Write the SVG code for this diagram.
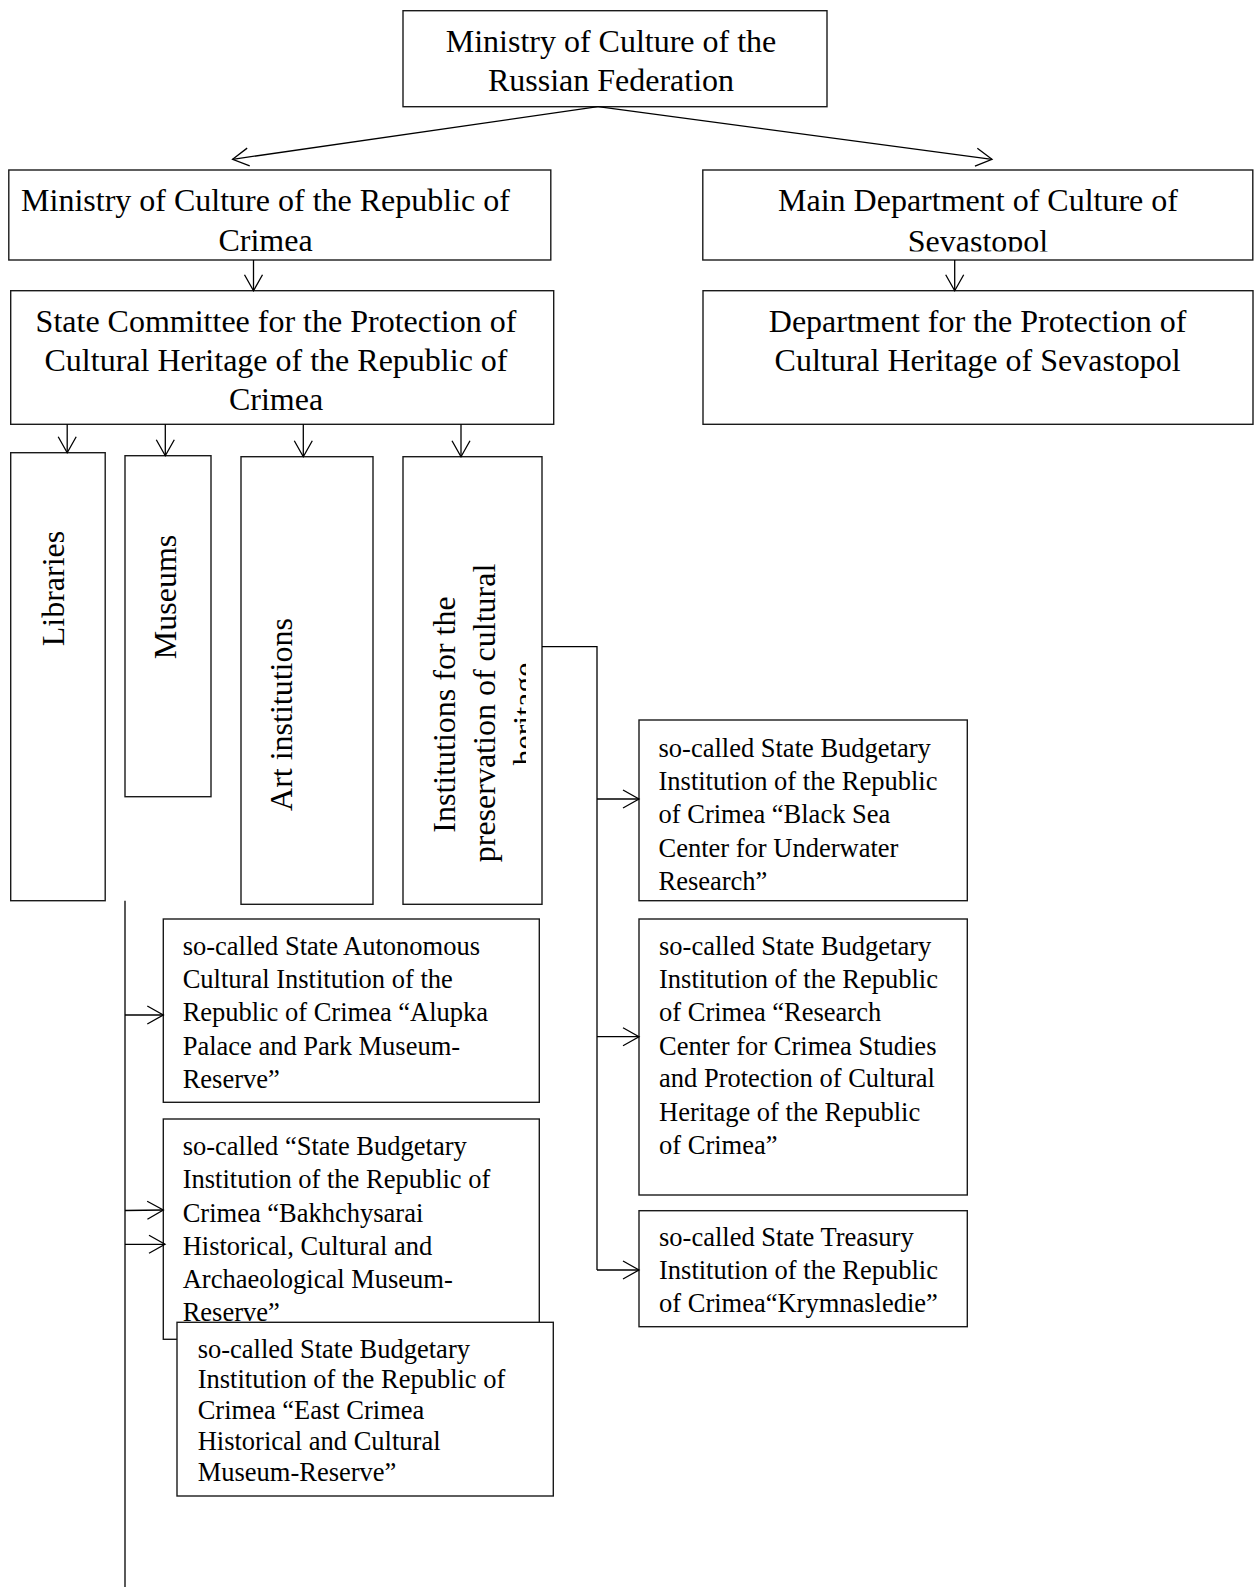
<svg xmlns="http://www.w3.org/2000/svg" width="1258" height="1587" viewBox="0 0 1258 1587">
<style>
.box{fill:#fff;stroke:#1a1a1a;stroke-width:1.4}
.big{font-family:"Liberation Serif","Times New Roman",serif;font-size:32px;fill:#000}
.sm{font-family:"Liberation Serif","Times New Roman",serif;font-size:26.5px;fill:#000}
.mid{text-anchor:middle}
.ln{fill:none;stroke:#000;stroke-width:1.3}
</style>
<defs>
<marker id="ah" viewBox="-18 -12 20 24" markerWidth="20" markerHeight="24" refX="0" refY="0" orient="auto" markerUnits="userSpaceOnUse">
<path d="M-16,-9 L0,0 L-16,9" fill="none" stroke="#000" stroke-width="1.3"/>
</marker>
<clipPath id="clipSev"><rect x="700" y="165" width="560" height="86.5"/></clipPath>
<clipPath id="clipInst"><rect x="400" y="455" width="126" height="450"/></clipPath>
</defs>

<g id="n-mincult-rf">
<rect class="box" x="403" y="10.7" width="424" height="96"/>
<text class="big mid" x="611" y="51.5">Ministry of Culture of the</text>
<text class="big mid" x="611" y="91">Russian Federation</text>
</g>

<g id="n-mincult-crimea">
<rect class="box" x="8.8" y="170" width="542" height="90"/>
<text class="big mid" x="265.5" y="211">Ministry of Culture of the Republic of</text>
<text class="big mid" x="265.5" y="250.5">Crimea</text>
</g>

<g id="n-main-dept-sev">
<rect class="box" x="702.8" y="170" width="550" height="90"/>
<g clip-path="url(#clipSev)">
<text class="big mid" x="978" y="211">Main Department of Culture of</text>
<text class="big mid" x="978" y="251.5">Sevastopol</text>
</g>
</g>

<g id="n-state-committee">
<rect class="box" x="10.7" y="290.7" width="543" height="133.6"/>
<text class="big mid" x="276" y="331.5">State Committee for the Protection of</text>
<text class="big mid" x="276" y="370.5">Cultural Heritage of the Republic of</text>
<text class="big mid" x="276" y="410">Crimea</text>
</g>

<g id="n-dept-sev">
<rect class="box" x="703" y="290.7" width="550" height="133.6"/>
<text class="big mid" x="977.6" y="331.5">Department for the Protection of</text>
<text class="big mid" x="977.6" y="370.5">Cultural Heritage of Sevastopol</text>
</g>

<g id="n-libraries">
<rect class="box" x="10.7" y="452.7" width="94.5" height="448"/>
<text class="big mid" transform="translate(63.5,588.5) rotate(-90)">Libraries</text>
</g>

<g id="n-museums">
<rect class="box" x="125" y="455.7" width="86" height="341"/>
<text class="big mid" transform="translate(176,597) rotate(-90)">Museums</text>
</g>

<g id="n-art">
<rect class="box" x="241" y="456.7" width="132" height="447.6"/>
<text class="big mid" transform="translate(292,714.5) rotate(-90)">Art institutions</text>
</g>

<g id="n-inst-preservation">
<rect class="box" x="403" y="456.7" width="139" height="447.6"/>
<g clip-path="url(#clipInst)">
<text class="big mid" transform="translate(455,714.5) rotate(-90)">Institutions for the</text>
<text class="big mid" transform="translate(495,713) rotate(-90)">preservation of cultural</text>
<text class="big mid" transform="translate(535,714) rotate(-90)">heritage</text>
</g>
</g>

<g id="n-black-sea">
<rect class="box" x="639" y="720" width="328.3" height="180.7"/>
<text class="sm" x="658.5" y="756.5">so-called State Budgetary</text>
<text class="sm" x="658.5" y="789.5">Institution of the Republic</text>
<text class="sm" x="658.5" y="823">of Crimea “Black Sea</text>
<text class="sm" x="658.5" y="856.5">Center for Underwater</text>
<text class="sm" x="658.5" y="890">Research”</text>
</g>

<g id="n-research-center">
<rect class="box" x="639" y="919" width="328.3" height="276"/>
<text class="sm" x="659" y="954.5">so-called State Budgetary</text>
<text class="sm" x="659" y="987.7">Institution of the Republic</text>
<text class="sm" x="659" y="1021">of Crimea “Research</text>
<text class="sm" x="659" y="1054.5">Center for Crimea Studies</text>
<text class="sm" x="659" y="1087">and Protection of Cultural</text>
<text class="sm" x="659" y="1120.5">Heritage of the Republic</text>
<text class="sm" x="659" y="1153.5">of Crimea”</text>
</g>

<g id="n-krymnasledie">
<rect class="box" x="639" y="1210.7" width="328.3" height="116"/>
<text class="sm" x="659" y="1246">so-called State Treasury</text>
<text class="sm" x="659" y="1279">Institution of the Republic</text>
<text class="sm" x="659" y="1312">of Crimea“Krymnasledie”</text>
</g>

<g id="n-alupka">
<rect class="box" x="163.3" y="919" width="376" height="183.3"/>
<text class="sm" x="182.7" y="954.5">so-called State Autonomous</text>
<text class="sm" x="182.7" y="988">Cultural Institution of the</text>
<text class="sm" x="182.7" y="1021">Republic of Crimea “Alupka</text>
<text class="sm" x="182.7" y="1054.5">Palace and Park Museum-</text>
<text class="sm" x="182.7" y="1087.5">Reserve”</text>
</g>

<g id="n-bakhchysarai">
<rect class="box" x="163.3" y="1119" width="376" height="220.3"/>
<text class="sm" x="182.7" y="1155">so-called “State Budgetary</text>
<text class="sm" x="182.7" y="1188">Institution of the Republic of</text>
<text class="sm" x="182.7" y="1221.5">Crimea “Bakhchysarai</text>
<text class="sm" x="182.7" y="1255">Historical, Cultural and</text>
<text class="sm" x="182.7" y="1288">Archaeological Museum-</text>
<text class="sm" x="182.7" y="1320.5">Reserve”</text>
</g>

<g id="n-east-crimea">
<rect class="box" x="177" y="1322.3" width="376.3" height="173.7"/>
<text class="sm" x="197.7" y="1357.5">so-called State Budgetary</text>
<text class="sm" x="197.7" y="1388">Institution of the Republic of</text>
<text class="sm" x="197.7" y="1419">Crimea “East Crimea</text>
<text class="sm" x="197.7" y="1450">Historical and Cultural</text>
<text class="sm" x="197.7" y="1480.5">Museum-Reserve”</text>
</g>

<g id="connectors">
<line class="ln" x1="598" y1="106.7" x2="232.6" y2="159.3" marker-end="url(#ah)"/>
<line class="ln" x1="598" y1="106.7" x2="992" y2="159.3" marker-end="url(#ah)"/>
<line class="ln" x1="253.5" y1="260" x2="253.5" y2="290.7" marker-end="url(#ah)"/>
<line class="ln" x1="954.7" y1="260" x2="954.7" y2="290.7" marker-end="url(#ah)"/>
<line class="ln" x1="67.2" y1="424.3" x2="67.2" y2="452.7" marker-end="url(#ah)"/>
<line class="ln" x1="165.3" y1="424.3" x2="165.3" y2="455.7" marker-end="url(#ah)"/>
<line class="ln" x1="303.3" y1="424.3" x2="303.3" y2="456.7" marker-end="url(#ah)"/>
<line class="ln" x1="461" y1="424.3" x2="461" y2="456.7" marker-end="url(#ah)"/>
<polyline class="ln" points="542,646.7 597,646.7 597,1270"/>
<line class="ln" x1="597" y1="799" x2="639" y2="799" marker-end="url(#ah)"/>
<line class="ln" x1="597" y1="1036.7" x2="639" y2="1036.7" marker-end="url(#ah)"/>
<line class="ln" x1="597" y1="1270" x2="639" y2="1270" marker-end="url(#ah)"/>
<line class="ln" x1="125" y1="900.7" x2="125" y2="1587"/>
<line class="ln" x1="125" y1="1015" x2="163.3" y2="1015" marker-end="url(#ah)"/>
<line class="ln" x1="125" y1="1210.5" x2="163.3" y2="1210" marker-end="url(#ah)"/>
<line class="ln" x1="125" y1="1244.3" x2="165" y2="1244.3" marker-end="url(#ah)"/>
</g>
</svg>
